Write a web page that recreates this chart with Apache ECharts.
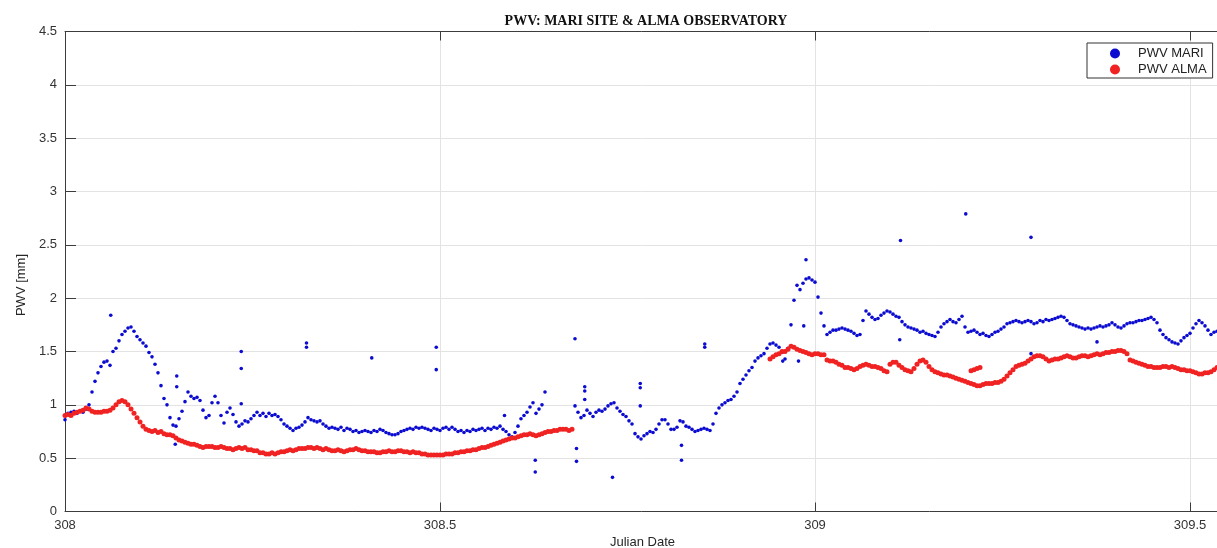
<!DOCTYPE html>
<html>
<head>
<meta charset="utf-8">
<script src="https://cdn.jsdelivr.net/npm/echarts@6/dist/echarts.min.js"></script>
<style>
html,body{margin:0;padding:0;background:#fff;}
#chart{width:1217px;height:548px;}
</style>
</head>
<body>
<div id="chart"></div>
<script>
// Sampling step of the readings (Julian days)
const STEP = 0.004;

// PWV MARI (blue) – segment 1 starts at 308.000, segment 2 at 308.680
const mariStart1 = 308.000;
const mariValues1 = [
  0.86,0.92,0.93,0.94,0.92,0.94,0.93,0.96,1.00,1.12,
  1.22,1.30,1.36,1.40,1.41,1.37,1.50,1.53,1.60,1.66,
  1.69,1.72,1.73,1.69,1.64,1.61,1.58,1.55,1.49,1.45,
  1.38,1.30,1.18,1.06,1.00,0.88,0.81,0.80,0.87,0.94,
  1.03,1.12,1.08,1.06,1.07,1.04,0.95,0.88,0.90,1.02,
  1.08,1.02,0.90,0.83,0.93,0.97,0.91,0.84,0.80,0.82,
  0.85,0.84,0.87,0.90,0.93,0.90,0.92,0.89,0.92,0.90,
  0.91,0.89,0.86,0.82,0.80,0.78,0.76,0.78,0.79,0.81,
  0.84,0.88,0.86,0.85,0.84,0.85,0.82,0.80,0.78,0.79,
  0.78,0.77,0.79,0.76,0.78,0.77,0.75,0.76,0.74,0.75,
  0.76,0.75,0.74,0.76,0.75,0.77,0.76,0.74,0.73,0.72,
  0.72,0.73,0.75,0.76,0.77,0.78,0.77,0.79,0.78,0.79,
  0.78,0.77,0.76,0.78,0.77,0.76,0.78,0.79,0.77,0.79,
  0.77,0.75,0.76,0.74,0.76,0.75,0.77,0.76,0.77,0.78,
  0.76,0.78,0.77,0.79,0.78,0.80,0.77,0.75,0.72,0.70,
  0.74,0.80,0.87,0.90,0.93,0.98,1.02,0.92,0.96,1.00,
  1.12
];
const mariStart2 = 308.680;
const mariValues2 = [
  0.99,0.93,0.88,0.90,0.95,0.92,0.89,0.93,0.95,0.94,
  0.96,0.99,1.01,1.02,0.97,0.94,0.91,0.89,0.85,0.82,
  0.73,0.70,0.68,0.71,0.73,0.75,0.74,0.77,0.82,0.86,
  0.86,0.82,0.77,0.77,0.79,0.85,0.84,0.80,0.79,0.77,
  0.75,0.76,0.77,0.78,0.77,0.76,0.82,0.92,0.97,1.00,
  1.02,1.04,1.05,1.08,1.12,1.20,1.24,1.28,1.32,1.35,
  1.41,1.44,1.46,1.48,1.53,1.57,1.58,1.56,1.54,1.49,
  1.43,1.53,1.75,1.98,2.12,2.08,2.14,2.18,2.19,2.17,
  2.15,2.01,1.86,1.74,1.66,1.68,1.70,1.70,1.71,1.72,
  1.71,1.70,1.69,1.67,1.65,1.66,1.79,1.88,1.85,1.82,
  1.80,1.81,1.84,1.86,1.88,1.87,1.85,1.83,1.82,1.78,
  1.75,1.73,1.72,1.71,1.70,1.68,1.69,1.67,1.66,1.65,
  1.64,1.68,1.73,1.76,1.78,1.80,1.78,1.77,1.80,1.83,
  1.73,1.68,1.69,1.70,1.68,1.66,1.67,1.65,1.64,1.66,
  1.68,1.69,1.71,1.73,1.76,1.77,1.78,1.79,1.78,1.77,
  1.78,1.79,1.78,1.76,1.77,1.79,1.78,1.80,1.79,1.80,
  1.81,1.82,1.83,1.82,1.79,1.76,1.75,1.74,1.73,1.72,
  1.71,1.72,1.71,1.72,1.73,1.74,1.73,1.74,1.75,1.77,
  1.75,1.73,1.72,1.74,1.76,1.77,1.77,1.78,1.79,1.79,
  1.80,1.81,1.82,1.80,1.77,1.70,1.66,1.63,1.61,1.59,
  1.58,1.57,1.60,1.63,1.65,1.67,1.72,1.76,1.79,1.77,
  1.74,1.70,1.66,1.68,1.69
];
// Isolated MARI readings (outliers)
const mariOutlierT = [308.061,308.149,308.149,308.147,308.235,308.235,308.235,308.322,308.322,308.409,
  308.495,308.495,308.586,308.627,308.627,308.680,308.682,308.682,308.693,308.693,308.693,308.730,
  308.767,308.767,308.767,308.822,308.822,308.853,308.853,308.957,308.978,308.985,308.988,
  309.114,309.113,309.201,309.288,309.376,309.288];
const mariOutlierV = [1.84,1.27,1.17,0.63,1.50,1.34,1.01,1.58,1.54,1.44,
  1.54,1.33,0.90,0.48,0.37,1.62,0.59,0.47,1.17,1.13,1.05,0.32,
  1.20,1.16,0.99,0.62,0.48,1.57,1.54,1.41,1.41,1.74,2.36,
  2.54,1.61,2.79,2.57,1.59,1.48];

// PWV ALMA (red) – segment 1 starts at 308.000, segment 2 at 308.940
const almaStart1 = 308.000;
const almaValues1 = [
  0.90,0.91,0.90,0.92,0.93,0.94,0.95,0.97,0.96,0.94,
  0.93,0.93,0.93,0.94,0.94,0.95,0.97,1.00,1.03,1.04,
  1.03,1.00,0.96,0.92,0.88,0.84,0.80,0.77,0.76,0.75,
  0.76,0.74,0.75,0.73,0.72,0.72,0.71,0.69,0.67,0.66,
  0.65,0.64,0.63,0.63,0.62,0.61,0.60,0.61,0.61,0.61,
  0.60,0.60,0.61,0.60,0.59,0.59,0.58,0.59,0.60,0.59,
  0.60,0.58,0.58,0.57,0.57,0.55,0.55,0.54,0.54,0.55,
  0.54,0.55,0.56,0.56,0.57,0.58,0.57,0.58,0.59,0.59,
  0.59,0.60,0.60,0.59,0.60,0.59,0.58,0.59,0.58,0.57,
  0.57,0.58,0.57,0.56,0.57,0.58,0.58,0.59,0.58,0.57,
  0.57,0.56,0.56,0.56,0.55,0.55,0.56,0.56,0.57,0.56,
  0.56,0.57,0.57,0.56,0.56,0.55,0.56,0.55,0.55,0.54,
  0.54,0.53,0.53,0.53,0.53,0.53,0.53,0.54,0.54,0.54,
  0.55,0.55,0.56,0.56,0.57,0.57,0.58,0.58,0.59,0.60,
  0.60,0.61,0.62,0.63,0.64,0.65,0.66,0.67,0.68,0.69,
  0.69,0.70,0.71,0.72,0.72,0.73,0.72,0.71,0.72,0.73,
  0.74,0.75,0.75,0.76,0.76,0.77,0.77,0.77,0.76,0.77
];
const almaStart2 = 308.940;
const almaValues2 = [
  1.43,1.45,1.47,1.48,1.50,1.50,1.52,1.55,1.54,1.52,
  1.51,1.50,1.49,1.48,1.47,1.48,1.48,1.47,1.47,1.42,
  1.41,1.41,1.40,1.38,1.37,1.35,1.35,1.34,1.33,1.34,
  1.36,1.37,1.38,1.37,1.36,1.36,1.35,1.34,1.32,1.31,
  1.38,1.40,1.40,1.37,1.35,1.33,1.32,1.31,1.34,1.38,
  1.41,1.42,1.40,1.36,1.33,1.31,1.30,1.29,1.28,1.28,
  1.27,1.26,1.25,1.24,1.23,1.22,1.21,1.20,1.19,1.18,
  1.18,1.19,1.20,1.20,1.20,1.21,1.21,1.22,1.24,1.27,
  1.30,1.33,1.36,1.37,1.38,1.39,1.41,1.43,1.45,1.46,
  1.46,1.45,1.43,1.41,1.42,1.43,1.43,1.44,1.45,1.46,
  1.45,1.44,1.44,1.45,1.46,1.46,1.45,1.46,1.47,1.48,
  1.47,1.48,1.49,1.49,1.50,1.50,1.51,1.51,1.50,1.48,
  1.42,1.41,1.40,1.39,1.38,1.37,1.36,1.36,1.35,1.35,
  1.35,1.36,1.36,1.35,1.36,1.35,1.34,1.33,1.33,1.32,
  1.32,1.31,1.30,1.29,1.29,1.30,1.30,1.31,1.33,1.35
];
// Small detached ALMA segment
const almaExtraT = [309.208,309.212,309.216,309.220];
const almaExtraV = [1.32,1.33,1.34,1.35];

const xTicks = [308, 308.5, 309, 309.5];

function seg(start, vals) {
  return vals.map((v, i) => [+(start + i * STEP).toFixed(4), v]);
}
function pairs(ts, vs) { return ts.map((t, i) => [t, vs[i]]); }

const mariData = seg(mariStart1, mariValues1).concat(seg(mariStart2, mariValues2), pairs(mariOutlierT, mariOutlierV));
const almaData = seg(almaStart1, almaValues1).concat(seg(almaStart2, almaValues2), pairs(almaExtraT, almaExtraV));

const BLUE = '#0c0cd0';
const RED = '#f02222';
const AXIS = '#3c3c3c';
const GRID = '#e3e3e3';
const FONT = '"Liberation Sans", Arial, sans-serif';

const chart = echarts.init(document.getElementById('chart'), null, {renderer: 'canvas'});
const X_MIN = 308, X_MAX = 309.54;
chart.setOption({
  animation: false,
  backgroundColor: '#ffffff',
  grid: {left: 65, right: -3, top: 31.5, bottom: 36.5, containLabel: false, outerBoundsMode: 'none'},
  graphic: [
    {type: 'text', x: 646, y: 21, style: {text: 'PWV: MARI SITE & ALMA OBSERVATORY', font: 'bold 14px "Liberation Serif", "Times New Roman", serif', fill: '#111', align: 'center', verticalAlign: 'middle'}},
    {type: 'text', x: 21.5, y: 285, rotation: Math.PI / 2, style: {text: 'PWV [mm]', font: '13px ' + FONT, fill: '#262626', align: 'center', verticalAlign: 'middle'}}
  ],
  legend: {
    left: 1087, top: 43,
    orient: 'vertical',
    backgroundColor: '#ffffff',
    borderColor: '#333',
    borderWidth: 1,
    borderRadius: 0,
    padding: [4, 6, 2, 23],
    itemGap: 3,
    itemWidth: 10,
    itemHeight: 10,
    icon: 'circle',
    textStyle: {fontSize: 13, lineHeight: 13, color: '#222', fontFamily: FONT, padding: [0, 0, 0, 13]},
    data: ['PWV MARI', 'PWV ALMA']
  },
  xAxis: [{
    type: 'value', min: X_MIN, max: X_MAX, interval: 0.5,
    name: 'Julian Date', nameLocation: 'middle', nameGap: 24,
    nameTextStyle: {fontSize: 13, color: '#262626', fontFamily: FONT},
    axisLine: {show: true, onZero: false, lineStyle: {color: AXIS, width: 1}},
    axisTick: {show: true, inside: true, length: 9, lineStyle: {color: AXIS}},
    axisLabel: {show: true, margin: 7, fontSize: 13, color: '#333', fontFamily: FONT, showMaxLabel: false,
      formatter: function (v) { return xTicks.indexOf(v) >= 0 ? String(v) : ''; }},
    splitLine: {show: true, lineStyle: {color: GRID, width: 1}}
  }, {
    type: 'value', min: X_MIN, max: X_MAX, interval: 0.5, position: 'top',
    axisLine: {show: true, onZero: false, lineStyle: {color: AXIS, width: 1}},
    axisTick: {show: true, inside: true, length: 9, lineStyle: {color: AXIS}},
    axisLabel: {show: false},
    splitLine: {show: false}
  }],
  yAxis: {
    type: 'value', min: 0, max: 4.5, interval: 0.5,
    axisLine: {show: true, onZero: false, lineStyle: {color: AXIS, width: 1}},
    axisTick: {show: true, inside: true, length: 11, lineStyle: {color: AXIS}},
    axisLabel: {margin: 8, fontSize: 13, color: '#333', fontFamily: FONT},
    splitLine: {show: true, lineStyle: {color: GRID, width: 1}}
  },
  series: [
    {name: 'PWV MARI', type: 'scatter', data: mariData, symbol: 'circle', symbolSize: 3.6,
      itemStyle: {color: BLUE, opacity: 1}, large: false, silent: true},
    {name: 'PWV ALMA', type: 'scatter', data: almaData, symbol: 'circle', symbolSize: 5,
      itemStyle: {color: RED, opacity: 1}, large: false, silent: true}
  ]
});
</script>
</body>
</html>
